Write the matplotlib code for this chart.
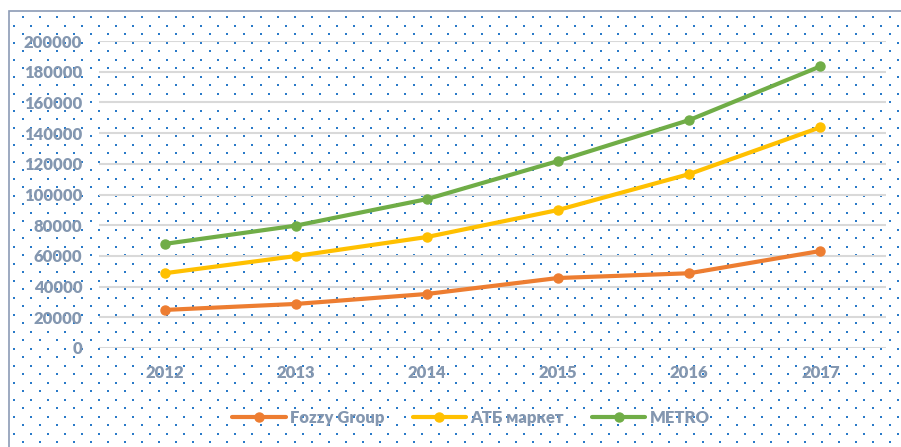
import numpy as np
import matplotlib.pyplot as plt
from matplotlib.patches import Rectangle

years = ["2012", "2013", "2014", "2015", "2016", "2017"]
fozzy = [24800, 28700, 35200, 45600, 48700, 63200]
atb = [48700, 59900, 72300, 89900, 113300, 143800]
metro = [67800, 79700, 97000, 121800, 148500, 183500]

series_names = ["Fozzy Group", "АТБ маркет", "METRO"]
series_colors = ["#ed7d31", "#ffc000", "#70ad47"]
text_color = "#8497b0"

plt.rcParams["font.family"] = ["Lato", "DejaVu Sans"]
plt.rcParams["font.weight"] = "heavy"

W, H = 901, 447
fig = plt.figure(figsize=(W / 100, H / 100), dpi=100)

# background: chart area with dotted pattern and border
bg = fig.add_axes([0, 0, 1, 1], zorder=0)
bg.set_xlim(0, W)
bg.set_ylim(H, 0)
bg.axis("off")
bg.add_patch(Rectangle((9, 11), W + 20, H + 20, facecolor="white",
                       edgecolor="#8c9bb5", linewidth=1.2))
xs, ys = [], []
for i, yy in enumerate(np.arange(17.3, H, 8.5)):
    x0 = 13.5 if i % 2 == 1 else 22.5
    for xx in np.arange(x0, W, 17):
        xs.append(xx)
        ys.append(yy)
bg.scatter(xs, ys, s=1.8, marker="s", color="#2a7ac8", linewidths=0)

ax = fig.add_axes([99 / W, (H - 348) / H, (886 - 99) / W, (348 - 41) / H], zorder=1)
ax.patch.set_alpha(0)
x = np.arange(len(years))
for vals, name, col in zip([fozzy, atb, metro], series_names, series_colors):
    ax.plot(x, vals, color=col, linewidth=3, marker="o", markersize=6.5,
            label=name, solid_capstyle="round")

ax.set_xlim(-0.5, len(years) - 0.5)
ax.set_ylim(0, 200000)
ax.set_yticks(np.arange(0, 200001, 20000))
ax.set_yticklabels([str(v) for v in range(0, 200001, 20000)])
ax.set_xticks(x)
ax.set_xticklabels(years)
ax.grid(axis="y", color="#d9d9d9", linewidth=1.5)
ax.set_axisbelow(True)
for s in ax.spines.values():
    s.set_visible(False)
ax.tick_params(length=0, labelsize=12, colors=text_color, pad=12)
ax.tick_params(axis="x", pad=12)

fig.legend(loc="center", bbox_to_anchor=(471 / W, (H - 418) / H), ncol=3,
           frameon=False, fontsize=12, labelcolor=text_color,
           handlelength=3.2, handletextpad=0.25, columnspacing=1.7)

fig.savefig("out.png", dpi=100)
